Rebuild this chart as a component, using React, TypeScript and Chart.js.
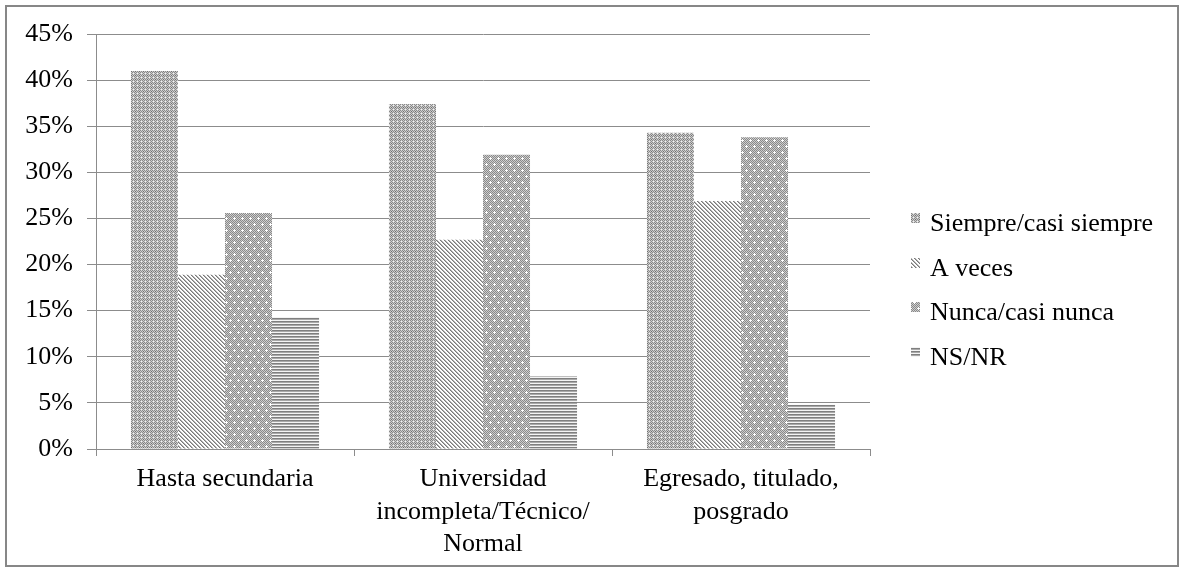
import React, { useEffect, useRef } from 'react';
import { Chart, registerables } from 'chart.js';

Chart.register(...registerables);

const categories: string[][] = [
  ['Hasta secundaria'],
  ['Universidad', 'incompleta/Técnico/', 'Normal'],
  ['Egresado, titulado,', 'posgrado'],
];
const seriesNames = ['Siempre/casi siempre', 'A veces', 'Nunca/casi nunca', 'NS/NR'];
const siempre = [41.0, 37.4, 34.3];
const aVeces = [18.9, 22.7, 26.9];
const nunca = [25.6, 31.9, 33.8];
const nsnr = [14.3, 7.9, 4.8];
const yTickLabels = ['0%', '5%', '10%', '15%', '20%', '25%', '30%', '35%', '40%', '45%'];

const GRID = '#8c8c8c';
const FONT_FAMILY = '"Liberation Serif", "Times New Roman", serif';

function tile(w: number, h: number, pix: (x: number, y: number) => string): HTMLCanvasElement {
  const c = document.createElement('canvas');
  c.width = w;
  c.height = h;
  const g = c.getContext('2d')!;
  for (let y = 0; y < h; y++) {
    for (let x = 0; x < w; x++) {
      g.fillStyle = pix(x, y);
      g.fillRect(x, y, 1, 1);
    }
  }
  return c;
}

function checker(x: number, y: number): string {
  return (x + y) % 2 === 0 ? '#8a8a8a' : '#cdcdcd';
}

function makePatterns(ctx: CanvasRenderingContext2D): CanvasPattern[] {
  const p1 = tile(4, 4, (x, y) => {
    if (x === 1 && y === 1) return '#f2f2f2';
    if (x === 3 && y === 3) return '#707070';
    return checker(x, y);
  });
  const p2 = tile(4, 4, (x, y) => {
    const d = (((x - y) % 4) + 4) % 4;
    if (d === 0) return '#7a7a7a';
    if (d === 1) return '#b3b3b3';
    return '#ffffff';
  });
  const plusAt = (x: number, y: number, cx: number, cy: number) =>
    (x === cx && Math.abs(y - cy) <= 1) || (y === cy && Math.abs(x - cx) <= 1);
  const p3 = tile(8, 12, (x, y) => {
    if (plusAt(x, y, 2, 2) || plusAt(x, y, 6, 8)) return '#ffffff';
    return checker(x, y);
  });
  const p4 = tile(1, 3, (_x, y) => (y === 0 ? '#7f7f7f' : y === 1 ? '#a9a9a9' : '#f4f4f4'));
  return [p1, p2, p3, p4].map((t) => ctx.createPattern(t, 'repeat')!);
}

const sideLegend = {
  id: 'sideLegend',
  afterDraw(chart: any) {
    const ctx: CanvasRenderingContext2D = chart.ctx;
    ctx.save();
    ctx.font = `26px ${FONT_FAMILY}`;
    ctx.textBaseline = 'alphabetic';
    ctx.textAlign = 'left';
    chart.data.datasets.forEach((ds: any, i: number) => {
      const base = 231 + i * 44.7;
      ctx.fillStyle = ds.backgroundColor;
      ctx.fillRect(911, Math.round(base - 18), 9, 10);
      ctx.fillStyle = '#000000';
      ctx.fillText(ds.label, 930, base);
    });
    ctx.restore();
  },
};

export default function App() {
  const ref = useRef<HTMLCanvasElement>(null);

  useEffect(() => {
    const canvas = ref.current!;
    const ctx = canvas.getContext('2d')!;
    const patterns = makePatterns(ctx);
    const values = [siempre, aVeces, nunca, nsnr];
    const font = { family: FONT_FAMILY, size: 26, lineHeight: 1.25 };

    const chart = new Chart(canvas, {
      type: 'bar',
      data: {
        labels: categories as any,
        datasets: seriesNames.map((name, i) => ({
          label: name,
          data: values[i],
          backgroundColor: patterns[i] as any,
          borderWidth: 0,
          categoryPercentage: 0.729,
          barPercentage: 1,
        })),
      },
      options: {
        responsive: false,
        animation: false,
        devicePixelRatio: 1,
        layout: { padding: { top: 34, right: 311, bottom: 0, left: 0 } },
        plugins: {
          legend: { display: false },
          tooltip: { enabled: false },
        },
        scales: {
          x: {
            grid: {
              display: true,
              drawOnChartArea: false,
              drawTicks: true,
              tickLength: 7,
              color: GRID,
              offset: true,
            },
            border: { display: true, color: GRID, width: 1 },
            ticks: { font, color: '#000000', padding: 7, maxRotation: 0, autoSkip: false },
            afterFit: (s: any) => {
              s.height = 120;
            },
          },
          y: {
            min: 0,
            max: 45,
            grid: { color: GRID, tickLength: 9 },
            border: { display: true, color: GRID, width: 1 },
            ticks: {
              stepSize: 5,
              font,
              color: '#000000',
              padding: 14,
              callback: (_v: any, i: number) => yTickLabels[i],
            },
            afterFit: (s: any) => {
              s.width = 96;
            },
          },
        },
      },
      plugins: [sideLegend],
    });

    return () => chart.destroy();
  }, []);

  return (
    <div style={{ position: 'absolute', left: 0, top: 0, width: 1181, height: 569, background: '#ffffff' }}>
      <div
        style={{
          position: 'absolute',
          left: 5,
          top: 5,
          width: 1174,
          height: 562,
          border: '2px solid #878787',
          boxSizing: 'border-box',
        }}
      />
      <canvas
        ref={ref}
        width={1181}
        height={569}
        style={{ position: 'absolute', left: 0, top: 0, display: 'block' }}
      />
    </div>
  );
}
